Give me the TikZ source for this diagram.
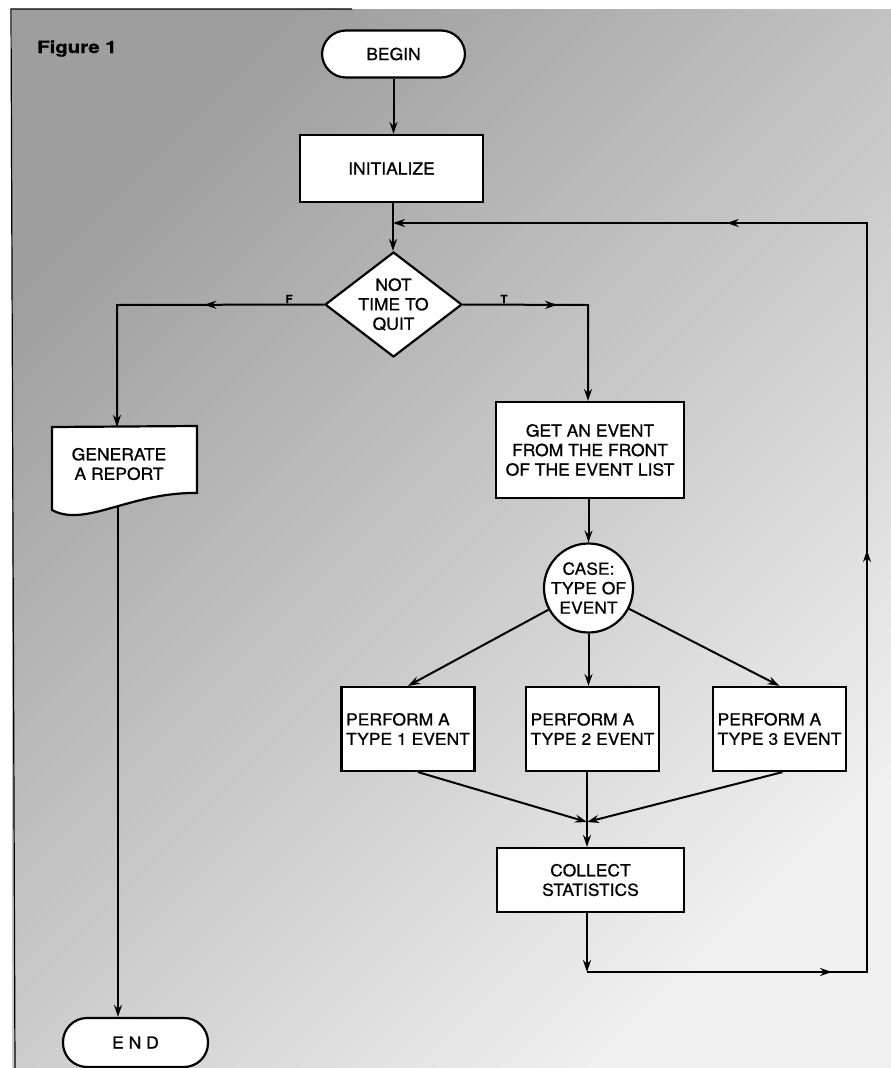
\documentclass[tikz,border=0pt]{standalone}
\usepackage{fontspec}
\setmainfont[FakeStretch=1.06, FakeBold=0.8]{TeX Gyre Heros}
\newfontfamily\figfont[FakeStretch=1.2, FakeBold=1.2]{TeX Gyre Heros}
\usetikzlibrary{arrows.meta,shapes.geometric,decorations.markings,calc}
\tikzset{Ar/.tip={Stealth[length=12pt,width=8pt]}}
\begin{document}
\begin{tikzpicture}[x=1pt,y=-1pt,
  every node/.style={font=\fontsize{16.5}{19.5}\selectfont, inner sep=0pt},
  box/.style={draw, fill=white, line width=2.2pt, align=center},
  term/.style={box, rounded corners=24pt, minimum width=143pt, minimum height=47pt},
  proc/.style={box, rectangle},
  tbox/.style={proc, minimum width=133pt, minimum height=84pt, align=left},
  conn/.style={line width=2pt},
  tip/.style={-Ar},
  lbl/.style={font=\fontsize{11}{11}\selectfont\bfseries}
]
\useasboundingbox (0,0) rectangle (891,1068);
% background halftone tone
\shade[top color=black!38, bottom color=black!6, shading angle=45] (12,9) rectangle (891,1068);
\draw[line width=1.2pt] (352,9) -- (11,9) -- (15,1068);

\node[anchor=base west, font=\figfont\bfseries\fontsize{17}{17}\selectfont] (fig) at (37,53) {Figure 1};

% nodes
\node[term] (begin) at (393.5,54) {BEGIN};
\node[proc, minimum width=183pt, minimum height=67pt] (init) at (391.5,168.5) {INITIALIZE};
\node[draw, fill=white, line width=2.2pt, diamond, minimum width=137pt, minimum height=105pt,
      label={[align=center]center:NOT\\TIME TO\\QUIT}] (quit) at (393.5,304.5) {};
\draw[box] (52,427) -- (197,426) -- (197,493) .. controls (130,492) and (85,528) .. (52,510) -- cycle;
\node[align=center] (gen) at (119,464) {GENERATE\\A REPORT};
\node[proc, minimum width=188pt, minimum height=96pt] (get) at (590,450) {GET AN EVENT\\FROM THE FRONT\\OF THE EVENT LIST};
\node[box, circle, minimum size=89pt, inner sep=-3pt] (case) at (588.5,588) {CASE:\\TYPE OF\\EVENT};
\node[tbox] (t1) at (408,729) {PERFORM A\\TYPE 1 EVENT};
\node[tbox] (t2) at (592.5,729) {PERFORM A\\TYPE 2 EVENT};
\node[tbox] (t3) at (779.5,729) {PERFORM A\\TYPE 3 EVENT};
\node[proc, minimum width=187pt, minimum height=64pt] (coll) at (590.5,880) {COLLECT\\STATISTICS};
\node[term, minimum width=145pt, minimum height=49pt] (endn) at (135.5,1042.5) {E N D};

\node[lbl, anchor=base] (flab) at (289,303) {F};
\node[lbl, anchor=base] (tlab) at (504,303) {T};

% coordinates
\coordinate (fc) at (117,305);
\coordinate (tc) at (588,305);
\coordinate (gentop) at (117,427);
\coordinate (genb) at (118,507);
\coordinate (merge) at (587,822);
\coordinate (bl) at (587,972);
\coordinate (br) at (867,972);
\coordinate (tr) at (867,223);
\coordinate (join) at (393,223);

% connectors
\draw[conn,tip] (begin.south) -- (begin.south |- init.north);
\draw[conn] (init.south -| join) -- (join);
\draw[conn,tip] (join) -- (join |- quit.north);
\draw[conn,tip,postaction={decorate},decoration={markings, mark=at position 0.364 with {\arrow{Ar}}}]
  (quit.west) -- (fc) -- (gentop);
\draw[conn,tip,postaction={decorate},decoration={markings, mark=at position 0.426 with {\arrow{Ar}}}]
  (quit.east) -- (tc) -- (tc |- get.north);
\draw[conn,tip] (genb) -- (genb |- endn.north);
\draw[conn,tip] (get.south -| case) -- (case.north);
\draw[conn,tip] (case) -- (t1.north);
\draw[conn,tip] (case.south) -- (case.south |- t2.north);
\draw[conn,tip] (case) -- (t3.north);
\draw[conn,tip] ($(t1.south)+(10,0)$) -- (merge);
\draw[conn,tip] ($(t3.south)+(3,0)$) -- (merge);
\draw[conn] (t2.south -| merge) -- (merge);
\draw[conn,tip] (merge) -- (merge |- coll.north);
\draw[conn,tip] (coll.south -| bl) -- (bl);
\draw[conn,tip,postaction={decorate},decoration={markings,
    mark=at position 0.163 with {\arrow{Ar}},
    mark=at position 0.467 with {\arrow{Ar}},
    mark=at position 0.778 with {\arrow{Ar}}}]
  (bl) -- (br) -- (tr) -- (join);
\end{tikzpicture}
\end{document}
